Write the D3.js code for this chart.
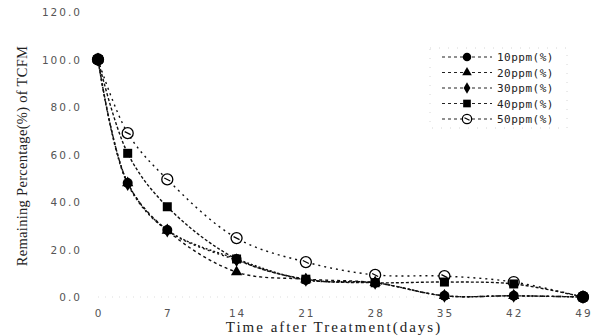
<!DOCTYPE html>
<html>
<head>
<meta charset="utf-8">
<script src="https://cdn.jsdelivr.net/npm/d3@7"></script>
<style>
  body { margin: 0; background: #fff; }
  svg { display: block; }
  .tick-label { font-family: "DejaVu Sans", sans-serif; font-size: 10.5px; fill: #555; letter-spacing: 2px; }
  .axis-title { font-family: "Liberation Serif", "DejaVu Serif", serif; font-size: 15px; fill: #222; }
  .legend-text { font-family: "DejaVu Sans Mono", monospace; font-size: 11px; fill: #222; letter-spacing: 0.5px; }
</style>
</head>
<body>
<div id="chart"></div>
<script>
const width = 593;
const height = 336;

// days after treatment
const days = [0, 3, 7, 14, 21, 28, 35, 42, 49];
const yTicks = [0, 20, 40, 60, 80, 100, 120];
const xTicks = [0, 7, 14, 21, 28, 35, 42, 49];

// remaining percentage per concentration
const ppm10 = [100, 48, 28.2, 16, 7.2, 6, 0.5, 0.5, 0];
const ppm20 = [100, 48, 28, 10.5, 7.5, 6, 0.5, 0.5, 0];
const ppm30 = [100, 47.5, 28, 15.5, 7.2, 6, 0.5, 0.5, 0];
const ppm40 = [100, 60.5, 38, 16, 7.5, 6, 6.3, 5.5, 0];
const ppm50 = [100, 69, 49.5, 24.8, 14.7, 9.3, 8.8, 6.3, 0];

const seriesNames = ["10ppm(%)", "20ppm(%)", "30ppm(%)", "40ppm(%)", "50ppm(%)"];
const seriesValues = [ppm10, ppm20, ppm30, ppm40, ppm50];
const seriesMarkers = ["circle", "triangle", "diamond", "square", "ring"];
const seriesDash = ["2,2", "3,3", "2,3", "3,2", "2,4"];

const x = d3.scaleLinear().domain([0, 49]).range([98, 583]);
const y = d3.scaleLinear().domain([0, 120]).range([297, 12]);

const svg = d3.select("#chart")
    .append("svg")
    .attr("width", width)
    .attr("height", height);

// faint frame remnants
svg.append("line")
    .attr("x1", x(0)).attr("x2", x(49))
    .attr("y1", y(0)).attr("y2", y(0))
    .attr("stroke", "#ddd")
    .attr("stroke-dasharray", "1,6");

// y tick labels
svg.selectAll(".ytick")
    .data(yTicks)
    .join("text")
    .attr("class", "tick-label")
    .attr("x", 82)
    .attr("y", d => y(d) + 4)
    .attr("text-anchor", "end")
    .text(d => d.toFixed(1));

// x tick labels
svg.selectAll(".xtick")
    .data(xTicks)
    .join("text")
    .attr("class", "tick-label")
    .attr("x", d => x(d) + 1)
    .attr("y", 317)
    .attr("text-anchor", "middle")
    .text(d => d);

// axis titles
svg.append("text")
    .attr("class", "axis-title")
    .attr("x", 334)
    .attr("y", 332)
    .attr("text-anchor", "middle")
    .style("letter-spacing", "2px")
    .text("Time after Treatment(days)");

svg.append("text")
    .attr("class", "axis-title")
    .attr("transform", "translate(27,156) rotate(-90)")
    .attr("text-anchor", "middle")
    .style("font-size", "14.5px")
    .style("letter-spacing", "0.3px")
    .text("Remaining Percentage(%) of TCFM");

function drawMarker(g, type, size) {
    const s = size || 1;
    if (type === "circle") {
        g.append("circle").attr("r", 5 * s).attr("fill", "#000");
    } else if (type === "triangle") {
        g.append("path").attr("d", d3.symbol(d3.symbolTriangle, 55 * s * s)()).attr("fill", "#000");
    } else if (type === "diamond") {
        g.append("path").attr("d", d3.symbol(d3.symbolDiamond, 55 * s * s)()).attr("fill", "#000");
    } else if (type === "square") {
        g.append("rect").attr("x", -4.5 * s).attr("y", -4.5 * s)
            .attr("width", 9 * s).attr("height", 9 * s).attr("fill", "#000");
    } else {
        g.append("circle").attr("r", 5.5 * s).attr("fill", "#fff")
            .attr("stroke", "#000").attr("stroke-width", 1.3);
        g.append("line").attr("x1", -3 * s).attr("y1", -1.5 * s)
            .attr("x2", 3 * s).attr("y2", 1.5 * s)
            .attr("stroke", "#000").attr("stroke-width", 1.2);
    }
}

const line = d3.line()
    .x((d, i) => x(days[i]))
    .y(d => y(d))
    .curve(d3.curveCatmullRom.alpha(0.5));

// lines drawn from highest concentration down
const order = [4, 3, 2, 1, 0];
order.forEach(k => {
    svg.append("path")
        .datum(seriesValues[k])
        .attr("d", line)
        .attr("fill", "none")
        .attr("stroke", "#111")
        .attr("stroke-width", 1.4)
        .attr("stroke-dasharray", seriesDash[k]);
});

order.forEach(k => {
    seriesValues[k].forEach((v, i) => {
        const g = svg.append("g").attr("transform", `translate(${x(days[i])},${y(v)})`);
        drawMarker(g, seriesMarkers[k], 1);
    });
});

// start and end points appear as large dots
[0, 49].forEach(d => {
    svg.append("circle")
        .attr("cx", x(d))
        .attr("cy", y(d === 0 ? 100 : 0))
        .attr("r", 6)
        .attr("fill", "#000");
});

// legend
const legend = svg.append("g").attr("transform", "translate(430,48)");
legend.append("rect")
    .attr("x", 0).attr("y", 0)
    .attr("width", 137).attr("height", 80)
    .attr("fill", "none")
    .attr("stroke", "#ccc")
    .attr("stroke-width", 0.8)
    .attr("stroke-dasharray", "1,8");

seriesNames.forEach((name, i) => {
    const row = legend.append("g").attr("transform", `translate(0,${9 + i * 15.5})`);
    row.append("line")
        .attr("x1", 12).attr("x2", 62)
        .attr("y1", 0).attr("y2", 0)
        .attr("stroke", "#222")
        .attr("stroke-width", 1.2)
        .attr("stroke-dasharray", "3,3");
    const m = row.append("g").attr("transform", "translate(37,0)");
    drawMarker(m, seriesMarkers[i], 0.85);
    row.append("text")
        .attr("class", "legend-text")
        .attr("x", 67)
        .attr("y", 4)
        .text(name);
});
</script>
</body>
</html>
